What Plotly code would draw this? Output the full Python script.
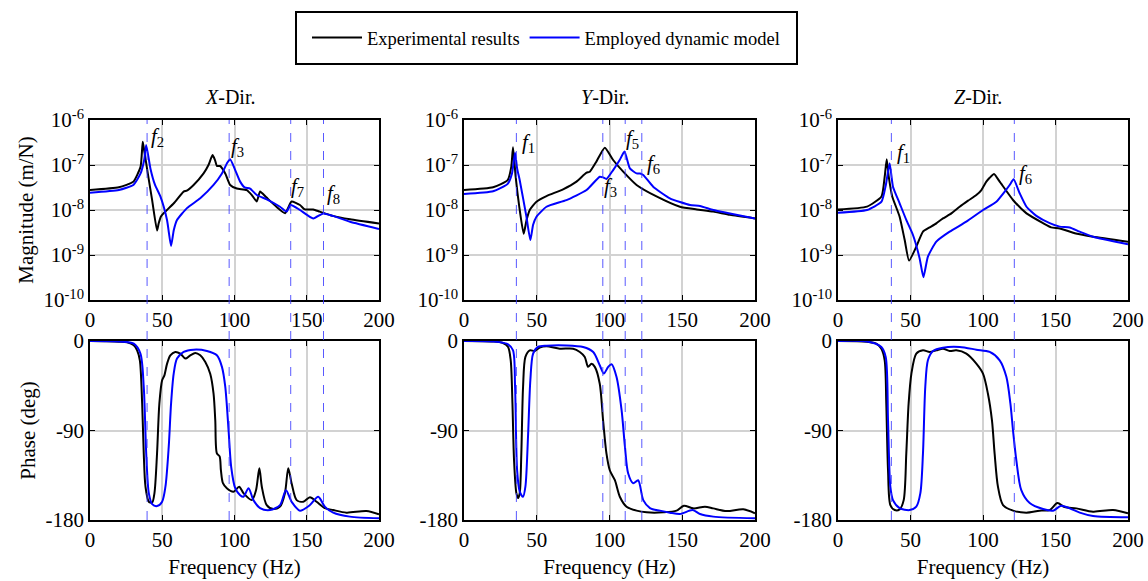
import math
import plotly.graph_objects as go

# ---------------- data ----------------
# X-direction magnitude
x_mag_exp_f = [0, 20, 30, 35, 36.5, 37.5, 40, 43, 46.4, 47.5, 49, 51, 58, 64.8, 67, 71.7, 78.6, 82, 84.8, 86.5, 87.8, 90, 93.6, 97, 101.6, 108.5, 112, 115.4, 117.7, 122, 129, 135, 137, 139.5, 145.3, 148.7, 154.5, 159, 168, 180, 200]
x_mag_exp_v = [2.78e-8, 3.19e-8, 4.27e-8, 9.2e-8, 3.3e-7, 2.1e-7, 6.5e-8, 1.66e-8, 3.5e-9, 5.0e-9, 7.1e-9, 8.5e-9, 1.41e-8, 2.57e-8, 2.7e-8, 3.6e-8, 6.5e-8, 1.0e-7, 1.66e-7, 1.29e-7, 9.5e-8, 9.5e-8, 6.5e-8, 3.6e-8, 3.0e-8, 2.78e-8, 2.15e-8, 1.54e-8, 2.57e-8, 1.91e-8, 1.18e-8, 8.5e-9, 1.1e-8, 1.54e-8, 1.29e-8, 1.03e-8, 1.03e-8, 9.2e-9, 7.4e-9, 6.2e-9, 5.0e-9]
x_mag_mod_f = [0, 20, 30, 35, 37.5, 38.9, 41.8, 45, 48.7, 53.3, 56.1, 58, 60.2, 67.1, 76.3, 85.5, 91.3, 95, 97, 100.5, 103.9, 107, 110.8, 115.4, 122.3, 131.5, 136, 138.9, 145.3, 154.5, 161.4, 168, 180, 200]
x_mag_mod_v = [2.43e-8, 2.78e-8, 3.6e-8, 6.5e-8, 1.29e-7, 2.78e-7, 8.4e-8, 3.6e-8, 2.0e-8, 6.0e-9, 1.58e-9, 3.6e-9, 6.0e-9, 1.1e-8, 1.82e-8, 3.6e-8, 6.5e-8, 1.12e-7, 1.34e-7, 7.7e-8, 4.27e-8, 3.19e-8, 3.0e-8, 2.15e-8, 1.73e-8, 1.18e-8, 9.2e-9, 1.29e-8, 1.0e-8, 6.5e-9, 8.4e-9, 7.4e-9, 5.5e-9, 3.8e-9]

# Y-direction magnitude
y_mag_exp_f = [0, 20, 30, 32.5, 33.7, 35.5, 38, 41, 43, 45.2, 49.8, 56.7, 68.1, 77.3, 84.2, 86.5, 91, 96.8, 102.5, 109.4, 118.6, 132.3, 148.4, 160, 171.3, 182.8, 200]
y_mag_exp_v = [2.78e-8, 3.19e-8, 4.6e-8, 9.2e-8, 2.47e-7, 5.5e-8, 1.18e-8, 2.95e-9, 6.0e-9, 1.0e-8, 1.53e-8, 2.04e-8, 2.88e-8, 4.27e-8, 6.76e-8, 7.1e-8, 1.19e-7, 2.43e-7, 1.29e-7, 7.1e-8, 3.6e-8, 2.0e-8, 1.18e-8, 1.03e-8, 9.2e-9, 7.8e-9, 6.5e-9]
y_mag_mod_f = [0, 20, 30, 33, 35.1, 36.5, 38.3, 42.9, 45.6, 47.5, 49.8, 56.7, 70.4, 84.2, 93.3, 95.6, 97.9, 102.5, 107, 110.3, 114, 118.6, 121, 123.2, 130, 141.5, 155.3, 162.2, 171.3, 182.8, 200]
y_mag_mod_v = [2.27e-8, 2.6e-8, 3.8e-8, 6.5e-8, 1.88e-7, 8.4e-8, 4.6e-8, 7.1e-9, 2.15e-9, 4.7e-9, 7.1e-9, 1.18e-8, 1.66e-8, 2.78e-8, 5.5e-8, 5.3e-8, 4.9e-8, 7.7e-8, 1.29e-7, 2.0e-7, 8.4e-8, 6.5e-8, 6.5e-8, 6.0e-8, 3.3e-8, 1.82e-8, 1.29e-8, 1.23e-8, 1.0e-8, 8.4e-9, 6.5e-9]

# Z-direction magnitude
z_mag_exp_f = [0, 20, 30, 32.2, 33.6, 35, 37.4, 42.5, 46, 49, 54, 58.6, 63.2, 67.8, 72.4, 78.2, 83.9, 89.7, 95.4, 98.9, 102.3, 104.6, 107.6, 111.5, 120.7, 130, 141.4, 147, 152.9, 164, 175.9, 200]
z_mag_exp_v = [1.03e-8, 1.19e-8, 2.0e-8, 5.5e-8, 1.34e-7, 5.5e-8, 2.0e-8, 7.1e-9, 2.15e-9, 7.5e-10, 1.53e-9, 3.3e-9, 4.1e-9, 5.06e-9, 6.5e-9, 8.4e-9, 1.18e-8, 1.61e-8, 2.15e-8, 2.78e-8, 4.27e-8, 5.2e-8, 6.3e-8, 4.27e-8, 1.67e-8, 8.4e-9, 5.1e-9, 4.1e-9, 3.9e-9, 3.0e-9, 2.55e-9, 1.98e-9]
z_mag_mod_f = [0, 20, 30, 33, 35.6, 37.9, 42.5, 47.1, 51.7, 56.3, 58.9, 62, 67.8, 77, 88.5, 100, 109.2, 115, 118.4, 121.1, 125.3, 130, 136.8, 146, 152.9, 159.8, 166.7, 175.9, 200]
z_mag_mod_v = [8.7e-9, 1.0e-8, 1.53e-8, 3.6e-8, 1.09e-7, 3.3e-8, 1.41e-8, 6.0e-9, 2.78e-9, 8.4e-10, 3.2e-10, 9.2e-10, 1.98e-9, 3.3e-9, 5.5e-9, 1.0e-8, 1.53e-8, 2.57e-8, 3.6e-8, 4.8e-8, 2.35e-8, 1.18e-8, 7.4e-9, 5.1e-9, 4.27e-9, 4.1e-9, 3.3e-9, 2.55e-9, 1.73e-9]

# X-direction phase
x_ph_exp_f = [0, 10, 20, 25.7, 30.3, 32.6, 34.5, 36.1, 37.2, 38.4, 40.7, 43, 44.6, 46.4, 48, 49.9, 51.5, 53.3, 55.6, 59, 62.5, 66, 69.4, 72.9, 76.3, 79.8, 83.2, 85.5, 86.7, 87.8, 89.7, 90.6, 92, 94.7, 99.3, 103.2, 106.2, 112, 114.9, 117.2, 118.9, 122.3, 126.9, 131.5, 134.9, 137.2, 139.5, 143, 147.6, 152.2, 156.8, 162.5, 168.3, 177.5, 191.3, 200]
x_ph_exp_v = [0, -0.3, -0.7, -1.3, -4.3, -9.4, -19.4, -63, -113, -146.5, -161.6, -162.6, -153, -113, -63, -39.5, -34.5, -23, -14.4, -11, -12.7, -17.7, -14.4, -12, -14.4, -21, -33, -53, -80, -113, -116, -130, -143, -148, -151.5, -146.5, -153, -160, -150, -128, -146.5, -165, -169, -166.5, -153, -128, -143, -160, -161.6, -157, -161.6, -168, -170, -172.6, -171, -174.3]
x_ph_mod_f = [0, 20, 30.3, 34.9, 37.2, 38.9, 40.7, 43, 46.4, 49.9, 52.2, 54.5, 56.1, 57.9, 60.2, 64.8, 71.7, 80.9, 87.8, 91.3, 93.6, 95.9, 97.7, 100.5, 103.9, 106.2, 109.7, 113.1, 117.7, 124.6, 131.5, 135.6, 139.5, 145.3, 152.2, 157.9, 162.5, 168.3, 179.8, 200]
x_ph_mod_v = [0, -0.5, -2.7, -12.7, -46, -113, -153, -164, -166, -161.6, -146.5, -106, -63, -33, -17.7, -11, -8.7, -10, -14.4, -26, -46, -90, -126.5, -148, -155, -156.6, -148, -160, -168, -170, -165, -150, -161.6, -170.6, -165, -156.6, -166.6, -172.6, -176.6, -178.3]

# Y-direction phase
y_ph_exp_f = [0, 20, 26.8, 30.3, 32.1, 33.3, 34.4, 36, 37.2, 38.3, 39.4, 40.6, 42.2, 45.2, 48.6, 52, 56.7, 65.8, 75, 79.6, 83, 85.3, 87.6, 89.9, 93.3, 95.6, 97.9, 100.2, 103.7, 107.1, 111.7, 118.6, 125.5, 136.9, 146.1, 151.1, 157.6, 165.6, 171.3, 180.5, 192, 200]
y_ph_exp_v = [0, -0.5, -2, -6, -19.4, -63, -120, -153, -158, -153, -113, -46, -16, -9.4, -10, -6.7, -5.4, -7.7, -7.7, -11, -16, -26, -23, -26, -43, -80, -113, -130, -140, -156.6, -166.6, -170.6, -172.3, -172.3, -170.6, -165.6, -168.3, -166.6, -168.3, -171, -169.3, -173.3]
y_ph_mod_f = [0, 20, 30.3, 33.7, 35.1, 36.5, 38.3, 40.6, 42.2, 44, 45.6, 47.5, 50.9, 56.7, 70.4, 81.9, 88.8, 93.3, 96.1, 99.1, 101.4, 104.8, 108.3, 110.6, 112.8, 116.3, 119.7, 123.2, 127.8, 134.6, 141.5, 148.4, 157.1, 162.2, 171.3, 200]
y_ph_mod_v = [0, -0.5, -3.3, -9.4, -46, -130, -151.5, -156.6, -146.5, -96, -39.5, -12.7, -6, -4.7, -4.4, -6, -11, -24.4, -32.8, -26, -23.4, -36, -69.6, -106, -133, -143, -140, -160, -168, -170.6, -172.6, -174, -170, -174, -176.6, -178.3]

# Z-direction phase
z_ph_exp_f = [0, 20, 26.4, 29.9, 32.2, 33.3, 34.5, 36.1, 39.1, 42.5, 45.3, 47.1, 48.7, 50.6, 54, 58.6, 63.2, 67.8, 72.4, 77, 81.6, 88.5, 95.4, 100, 103.4, 106.2, 108, 110.3, 113.8, 120.7, 129.9, 139, 146, 151.3, 156.3, 164.4, 175.9, 189.7, 200]
z_ph_exp_v = [0, -0.7, -2.7, -7.7, -19.4, -63, -130, -165, -170, -169.3, -160, -113, -63, -33, -12.7, -9.4, -11, -9.4, -7.7, -10, -9.4, -12.7, -22.7, -32.8, -53, -80, -113, -146.5, -165, -170.6, -172.6, -170.6, -170, -163, -167, -168.3, -171.6, -170, -173.3]
z_ph_mod_f = [0, 20, 29.9, 32.9, 34.5, 36.1, 37.9, 42.5, 49.4, 54, 56.8, 58.6, 60.2, 62, 65.5, 72.4, 83.9, 95.4, 104.6, 111.5, 116.1, 118.9, 120.7, 123, 126.4, 132.2, 141.4, 148.3, 154, 159.8, 166.7, 175.9, 200]
z_ph_mod_v = [0, -0.5, -6, -16, -80, -146.5, -160, -168, -170, -166.6, -153, -113, -46, -19.4, -10, -6.7, -6, -8.7, -11, -19.4, -36, -63, -90, -120, -150, -163, -169, -170.6, -165.6, -168.3, -172.6, -176, -177.3]

# identified modal frequencies (dashed lines) and their labels (subscript, freq, magnitude)
x_modes = [39.5, 96.3, 138.9, 161.6]
y_modes = [36.0, 95.4, 110.8, 122.2]
z_modes = [36.8, 121.6]
x_labels = [("2", 41.0, 4.2e-7), ("3", 96.2, 2.5e-7), ("7", 137.6, 3.25e-8), ("8", 162.4, 2.27e-8)]
y_labels = [("1", 38.5, 3.08e-7), ("5", 110.0, 3.88e-7), ("6", 124.4, 1.05e-7), ("3", 94.8, 3.25e-8)]
z_labels = [("1", 39.3, 1.85e-7), ("6", 123.4, 6.47e-8)]

dir_titles = ["<i>X</i>-Dir.", "<i>Y</i>-Dir.", "<i>Z</i>-Dir."]
series_names = ["Experimental results", "Employed dynamic model"]

# ---------------- layout helpers ----------------
W, H = 1148, 581
FONT = "Liberation Serif, Times New Roman, Times, serif"
BLACK = "#000000"
BLUE = "#0000ff"
DASH = "rgba(60,60,255,0.85)"
cols_px = [(90, 379), (464, 755), (838, 1128)]
rows_px = [(120, 300), (341, 520)]

def xd(c):
    a, b = cols_px[c]
    return [a / W, b / W]

def yd(r):
    a, b = rows_px[r]
    return [1 - b / H, 1 - a / H]

fig = go.Figure()

mag = [(x_mag_exp_f, x_mag_exp_v, x_mag_mod_f, x_mag_mod_v),
       (y_mag_exp_f, y_mag_exp_v, y_mag_mod_f, y_mag_mod_v),
       (z_mag_exp_f, z_mag_exp_v, z_mag_mod_f, z_mag_mod_v)]
pha = [(x_ph_exp_f, x_ph_exp_v, x_ph_mod_f, x_ph_mod_v),
       (y_ph_exp_f, y_ph_exp_v, y_ph_mod_f, y_ph_mod_v),
       (z_ph_exp_f, z_ph_exp_v, z_ph_mod_f, z_ph_mod_v)]

for c in range(3):
    for r, data in enumerate([mag, pha]):
        idx = r * 3 + c + 1
        xa = "x" if idx == 1 else f"x{idx}"
        ya = "y" if idx == 1 else f"y{idx}"
        ef, ev, mf, mv = data[c]
        sm = 0.5 if r == 0 else 0.8
        fig.add_trace(go.Scatter(x=ef, y=ev, mode="lines", xaxis=xa, yaxis=ya,
                                 line=dict(color=BLACK, width=2, shape="spline", smoothing=sm),
                                 name=series_names[0], showlegend=(idx == 1)))
        fig.add_trace(go.Scatter(x=mf, y=mv, mode="lines", xaxis=xa, yaxis=ya,
                                 line=dict(color=BLUE, width=2, shape="spline", smoothing=sm),
                                 name=series_names[1], showlegend=(idx == 1)))

tickfont = dict(family=FONT, size=21, color=BLACK)
titlefont = dict(family=FONT, size=21, color=BLACK)
axcommon = dict(showline=True, linecolor=BLACK, linewidth=1.5, mirror="ticks",
                ticks="inside", ticklen=5, tickwidth=1.2, tickcolor=BLACK,
                showgrid=True, gridcolor="#d2d2d2", gridwidth=1.5,
                zeroline=False, tickfont=tickfont, automargin=False)

layout = {}
for r in range(2):
    for c in range(3):
        idx = r * 3 + c + 1
        xk = "xaxis" if idx == 1 else f"xaxis{idx}"
        yk = "yaxis" if idx == 1 else f"yaxis{idx}"
        xa = "x" if idx == 1 else f"x{idx}"
        ya = "y" if idx == 1 else f"y{idx}"
        xax = dict(axcommon, domain=xd(c), anchor=ya, range=[0, 200],
                   tickvals=[0, 50, 100, 150, 200])
        if r == 1:
            xax["title"] = dict(text="Frequency (Hz)", font=titlefont, standoff=8)
        if r == 0:
            yax = dict(axcommon, domain=yd(r), anchor=xa, type="log", range=[-10, -6],
                       tickvals=[1e-10, 1e-9, 1e-8, 1e-7, 1e-6],
                       ticktext=["10<sup>-10</sup>", "10<sup>-9</sup>", "10<sup>-8</sup>",
                                 "10<sup>-7</sup>", "10<sup>-6</sup>"])
            if c == 0:
                yax["title"] = dict(text="Magnitude (m/N)", font=titlefont, standoff=4)
        else:
            yax = dict(axcommon, domain=yd(r), anchor=xa, range=[-180, 0],
                       tickvals=[-180, -90, 0], ticktext=["-180", "-90", "0"])
            if c == 0:
                yax["title"] = dict(text="Phase (deg)", font=titlefont, standoff=4)
        layout[xk] = xax
        layout[yk] = yax

shapes = []
annotations = []
for c, modes in enumerate([x_modes, y_modes, z_modes]):
    xa = "x" if c == 0 else f"x{c + 1}"
    for m in modes:
        shapes.append(dict(type="line", xref=xa, yref="paper", x0=m, x1=m,
                           y0=1 - rows_px[1][1] / H, y1=1 - rows_px[0][0] / H,
                           line=dict(color=DASH, width=1, dash="dash"), layer="above"))

# legend frame
shapes.append(dict(type="rect", xref="paper", yref="paper",
                   x0=296 / W, x1=797 / W, y0=1 - 64 / H, y1=1 - 12 / H,
                   line=dict(color=BLACK, width=2), fillcolor="rgba(0,0,0,0)"))

for c, labels in enumerate([x_labels, y_labels, z_labels]):
    xa = "x" if c == 0 else f"x{c + 1}"
    ya = "y" if c == 0 else f"y{c + 1}"
    for sub, fx, fy in labels:
        annotations.append(dict(x=fx, y=math.log10(fy), xref=xa, yref=ya,
                                text=f"<i>f</i><sub>{sub}</sub>", showarrow=False,
                                xanchor="left", yanchor="middle",
                                font=dict(family=FONT, size=21, color=BLACK)))

for c in range(3):
    a, b = cols_px[c]
    annotations.append(dict(x=(a + b) / 2 / W - 0.004, y=1 - 97 / H, xref="paper", yref="paper",
                            text=dir_titles[c], showarrow=False, xanchor="center",
                            yanchor="middle", font=dict(family=FONT, size=20, color=BLACK)))

fig.update_layout(
    width=W, height=H,
    margin=dict(l=0, r=0, t=0, b=0),
    paper_bgcolor="white", plot_bgcolor="white",
    font=dict(family=FONT, size=20, color=BLACK),
    showlegend=True,
    legend=dict(orientation="h", x=546 / W, xanchor="center", y=1 - 38 / H, yanchor="middle",
                borderwidth=0, bgcolor="rgba(0,0,0,0)",
                font=dict(family=FONT, size=18.5, color=BLACK),
                itemwidth=50, tracegroupgap=0),
    shapes=shapes, annotations=annotations,
    **layout,
)

fig.write_html("out.html", config={"displayModeBar": False},
               post_script="document.body.style.margin='0';document.body.style.overflow='hidden';")
